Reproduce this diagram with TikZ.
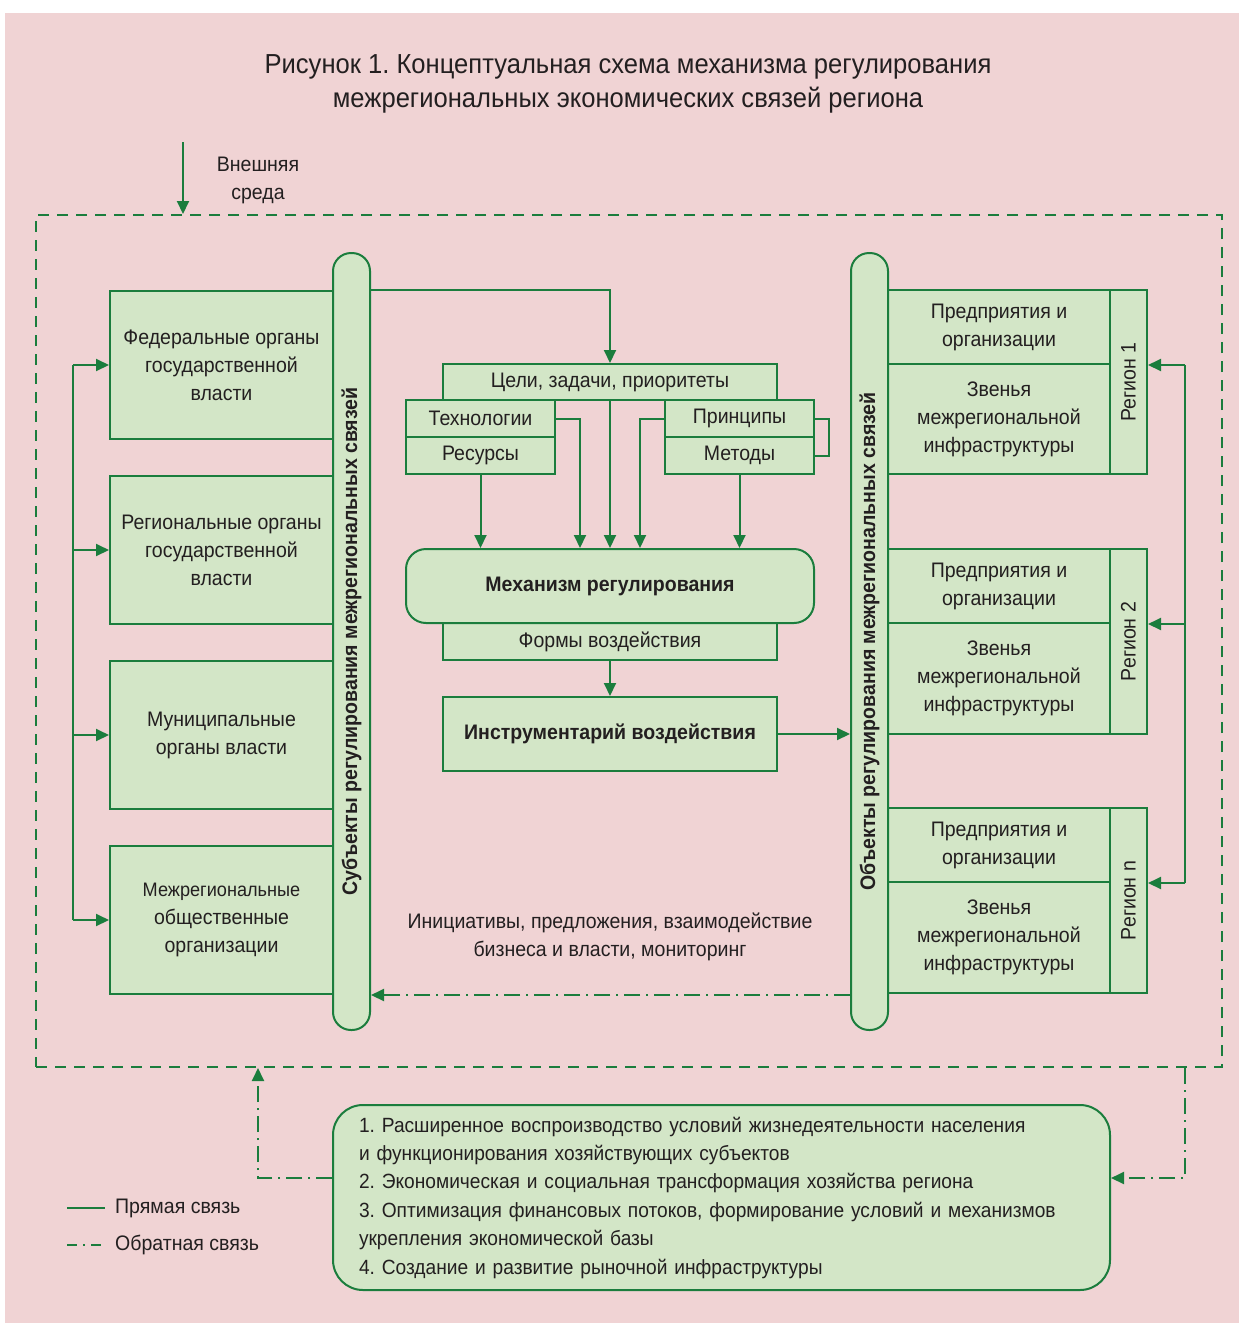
\documentclass[tikz,border=0pt]{standalone}
\usepackage{fontspec}
\setmainfont{Liberation Sans}[FakeStretch=0.93]
\usetikzlibrary{arrows.meta,calc}
\definecolor{gline}{HTML}{1B7D3D}
\definecolor{gfill}{HTML}{D3E6C7}
\definecolor{pinkbg}{HTML}{F0D3D4}
\definecolor{txt}{HTML}{231F20}
\frenchspacing
\begin{document}
\begin{tikzpicture}[x=1pt,y=-1pt, font=\fontsize{21}{28}\selectfont, text=txt,
 ln/.style={draw=gline, line width=2pt},
 tip/.style={-{Triangle[length=13pt,width=12pt]}},
 arr/.style={ln, tip},
 fb/.style={dash pattern=on 16pt off 6pt on 2pt off 6pt},
 box/.style={draw=gline, fill=gfill, line width=2pt, align=center, inner sep=0pt},
 bar/.style={box, rounded corners=18pt, minimum width=37pt, minimum height=777pt},
 bartext/.style={rotate=90, font=\fontsize{21}{24}\selectfont\bfseries},
]
\useasboundingbox (0,0) rectangle (1239,1323);
\fill[white] (0,0) rectangle (1239,1323);
\fill[pinkbg] (5,13) rectangle (1239,1323);

\node[align=center, font=\fontsize{27.5}{34}\selectfont] (title) at (628,84)
 {Рисунок 1. Концептуальная схема механизма регулирования\\межрегиональных экономических связей региона};

\node[draw=gline, line width=2pt, dash pattern=on 11pt off 8pt, minimum width=1186pt, minimum height=852pt, inner sep=0pt] (env) at (629,641) {};

\coordinate (ext) at (183,142);
\draw[arr] (ext) -- (ext |- env.north);
\node[align=center] (extlab) at (258,180) {Внешняя\\среда};

% left boxes
\node[box, minimum width=223pt, minimum height=148pt] (fed) at (221.5,365) {Федеральные органы\\государственной\\власти};
\node[box, minimum width=223pt, minimum height=148pt] (reg) at (221.5,550) {Региональные органы\\государственной\\власти};
\node[box, minimum width=223pt, minimum height=148pt] (mun) at (221.5,735) {Муниципальные\\органы власти};
\node[box, minimum width=223pt, minimum height=148pt] (mez) at (221.5,920) {{\fontsize{19.5}{28}\selectfont Межрегиональные}\\общественные\\организации};

% right boxes
\node[box, minimum width=222pt, minimum height=74pt] (r1a) at (999,327) {Предприятия и\\организации};
\node[box, minimum width=222pt, minimum height=110pt] (r1b) at (999,419) {Звенья\\межрегиональной\\инфраструктуры};
\node[box, minimum width=37pt, minimum height=184pt] (r1lab) at (1128.5,382) {};
\node[rotate=90] (r1t) at (r1lab.center) {Регион 1};

\node[box, minimum width=222pt, minimum height=74pt] (r2a) at (999,586) {Предприятия и\\организации};
\node[box, minimum width=222pt, minimum height=111pt] (r2b) at (999,678.5) {Звенья\\межрегиональной\\инфраструктуры};
\node[box, minimum width=37pt, minimum height=185pt] (r2lab) at (1128.5,641.5) {};
\node[rotate=90] (r2t) at (r2lab.center) {Регион 2};

\node[box, minimum width=222pt, minimum height=74pt] (rna) at (999,845) {Предприятия и\\организации};
\node[box, minimum width=222pt, minimum height=111pt] (rnb) at (999,937.5) {Звенья\\межрегиональной\\инфраструктуры};
\node[box, minimum width=37pt, minimum height=185pt] (rnlab) at (1128.5,900.5) {};
\node[rotate=90] (rnt) at (rnlab.center) {Регион n};

% bars
\node[bar] (lbar) at (351.5,641.5) {};
\node[bartext] (lbart) at (lbar.center) {Субъекты регулирования межрегиональных связей};
\node[bar] (rbar) at (869.5,641.5) {};
\node[bartext] (rbart) at (rbar.center) {Объекты регулирования межрегиональных связей};

% center
\node[box, minimum width=334pt, minimum height=36pt] (goals) at (610,382) {Цели, задачи, приоритеты};
\node[box, minimum width=149pt, minimum height=37pt] (tech) at (480.5,418.5) {Технологии};
\node[box, minimum width=149pt, minimum height=37pt] (resu) at (480.5,455.5) {Ресурсы};
\node[box, minimum width=149pt, minimum height=37pt] (princ) at (739.5,418.5) {Принципы};
\node[box, minimum width=149pt, minimum height=37pt] (meth) at (739.5,455.5) {Методы};
\node[box, minimum width=334pt, minimum height=37pt] (forms) at (610,641.5) {Формы воздействия};
\node[box, rounded corners=20pt, minimum width=408pt, minimum height=74pt, font=\fontsize{21}{28}\selectfont\bfseries] (mech) at (610,586) {Механизм регулирования};
\node[box, minimum width=334pt, minimum height=74pt, font=\fontsize{21}{28}\selectfont\bfseries] (instr) at (610,734) {Инструментарий воздействия};

\draw[ln] (princ.east) -- ++(14,0) |- (meth.east);

\draw[arr] (lbar.east |- fed.north) -| (goals.north);
\coordinate (tx) at (580,0);
\coordinate (px) at (640,0);
\draw[arr] (tech.east) -| (tx |- mech.north);
\draw[arr] (princ.west) -| (px |- mech.north);
\draw[arr] (goals.south) -- (mech.north);
\draw[arr] (resu.south) -- (resu.south |- mech.north);
\draw[arr] (meth.south) -- (meth.south |- mech.north);
\draw[arr] (forms.south) -- (instr.north);
\draw[arr] (instr.east) -- (instr.east -| rbar.west);

% left feedback column
\coordinate (lc) at (73,0);
\draw[ln] (lc |- fed.west) -- (lc |- mez.west);
\foreach \n in {fed,reg,mun,mez} \draw[arr] (lc |- \n.west) -- (\n.west);

% right feedback column
\coordinate (rc) at (1185,0);
\draw[ln] (rc |- r1a.south) -- (rc |- rna.south);
\draw[arr] (rc |- r1a.south) -- (r1a.south -| r1lab.east);
\draw[arr] (rc |- r2a.south) -- (r2a.south -| r2lab.east);
\draw[arr] (rc |- rna.south) -- (rna.south -| rnlab.east);

% feedback between bars
\draw[ln, fb, tip] (rbar.west |- mez.south) -- (lbar.east |- mez.south);
\node[align=center] (fbtext) at (610,937) {Инициативы, предложения, взаимодействие\\бизнеса и власти, мониторинг};

% results
\node[box, rounded corners=30pt, align=left, text width=725pt, inner xsep=26pt, minimum height=185pt, font=\fontsize{20.6}{28.4}\selectfont] (resbox) at (721.5,1197.5)
 {1. Расширенное воспроизводство условий жизнедеятельности населения\\
 и функционирования хозяйствующих субъектов\\
 2. Экономическая и социальная трансформация хозяйства региона\\
 3. Оптимизация финансовых потоков, формирование условий и механизмов\\
 укрепления экономической базы\\
 4. Создание и развитие рыночной инфраструктуры};

\coordinate (fbl) at (258,1178);
\coordinate (fbr) at (1185,1178);
\draw[ln, fb, tip] (resbox.west |- fbl) -- (fbl) -- (fbl |- env.south);
\draw[ln, fb, tip] (fbr |- env.south) -- (fbr) -- (fbr -| resbox.east);

% legend
\node[anchor=west, inner sep=0pt] (leg1) at (115,1208) {Прямая связь};
\node[anchor=west, inner sep=0pt] (leg2) at (115,1245) {Обратная связь};
\coordinate (l1) at (67,1208);
\coordinate (l2) at (67,1245);
\draw[ln] (l1) -- ($(leg1.west)+(-10,0)$);
\draw[ln, dash pattern=on 10pt off 6pt on 2pt off 6pt] (l2) -- ($(leg2.west)+(-10,0)$);
\end{tikzpicture}
\end{document}
